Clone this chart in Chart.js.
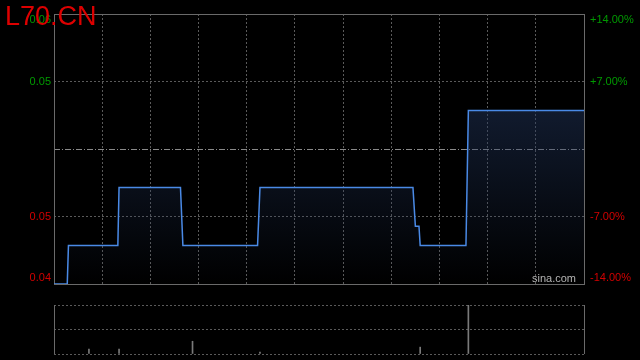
<!DOCTYPE html>
<html>
<head>
<meta charset="utf-8">
<script src="https://cdn.jsdelivr.net/npm/chart.js@4/dist/chart.umd.min.js"></script>
<style>
	html, body { margin: 0; padding: 0; background: #000; }
	#wrap { position: relative; width: 640px; height: 360px; overflow: hidden; }
	canvas { position: absolute; left: 0; top: 0; }
	#title { position: absolute; left: 5px; top: 1px; font: 27px "Liberation Sans", Arial, sans-serif; color: #dd0000; z-index: 3; }
	#brand { position: absolute; left: 532px; top: 272px; font: 11px "Liberation Sans", Arial, sans-serif; color: #b4b4b4; z-index: 3; }
</style>
</head>
<body>
<div id="wrap">
	<canvas id="priceChart" width="640" height="360"></canvas>
	<canvas id="volChart" width="640" height="360"></canvas>
	<div id="title">L70.CN</div>
	<div id="brand">sina.com</div>
</div>
<script>
// минуты от начала торгов
const priceTimes = [0, 11, 12, 53, 54, 105, 107, 169, 171, 298, 300, 303, 304, 342, 344, 440];
const prices = [0.043, 0.043, 0.045, 0.045, 0.048, 0.048, 0.045, 0.045, 0.048, 0.048, 0.046, 0.046, 0.045, 0.045, 0.052, 0.052];

const volTimes = [29, 54, 115, 171, 304, 344];
const volumes = [10, 10, 26, 4, 14, 100];

const prevClose = 0.05;
const tickValues = [0.057, 0.0535, 0.0465, 0.043];
const leftLabels = ['0.06', '0.05', '0.05', '0.04'];
const rightLabels = ['+14.00%', '+7.00%', '-7.00%', '-14.00%'];
const labelColors = ['#009a00', '#009a00', '#d20000', '#d20000'];

const gridColor = '#5a5a5a';
const frameColor = '#6a6a6a';

const priceFrame = {
	id: 'priceFrame',
	beforeDatasetsDraw(chart) {
		const { ctx, chartArea: a, scales } = chart;
		ctx.save();
		// линия вчерашнего закрытия
		const y = Math.round(scales.y.getPixelForValue(prevClose)) + 0.5;
		ctx.strokeStyle = '#8a8a8a';
		ctx.lineWidth = 1;
		ctx.setLineDash([6, 2, 1, 2]);
		ctx.beginPath();
		ctx.moveTo(a.left, y);
		ctx.lineTo(a.right, y);
		ctx.stroke();
		ctx.setLineDash([]);
		ctx.strokeStyle = frameColor;
		ctx.strokeRect(a.left + 0.5, a.top + 0.5, a.right - a.left, a.bottom - a.top);
		ctx.restore();
	},
	afterDraw(chart) {
		const { ctx, chartArea: a, scales } = chart;
		ctx.save();
		ctx.font = '11px "Liberation Sans", Arial, sans-serif';
		ctx.textBaseline = 'middle';
		tickValues.forEach((v, i) => {
			let y = scales.y.getPixelForValue(v);
			if (i === 0) y += 6;
			if (i === tickValues.length - 1) y -= 6;
			ctx.fillStyle = labelColors[i];
			ctx.textAlign = 'right';
			ctx.fillText(leftLabels[i], a.left - 3, y);
			ctx.textAlign = 'left';
			ctx.fillText(rightLabels[i], a.right + 6, y);
		});
		ctx.restore();
	}
};

new Chart(document.getElementById('priceChart'), {
	type: 'line',
	data: {
		datasets: [{
			data: priceTimes.map((t, i) => ({ x: t, y: prices[i] })),
			borderColor: '#4a8ae6',
			borderWidth: 1.5,
			pointRadius: 0,
			tension: 0,
			fill: 'start',
			backgroundColor: (context) => {
				const a = context.chart.chartArea;
				if (!a) return 'rgba(0,0,0,0)';
				const g = context.chart.ctx.createLinearGradient(0, a.top, 0, a.bottom);
				g.addColorStop(0, 'rgba(35,55,95,0.75)');
				g.addColorStop(1, 'rgba(35,55,95,0)');
				return g;
			}
		}]
	},
	options: {
		responsive: false,
		animation: false,
		layout: { padding: { left: 54, right: 56, top: 14, bottom: 76 } },
		plugins: { legend: { display: false }, tooltip: { enabled: false } },
		scales: {
			x: {
				type: 'linear',
				min: 0,
				max: 440,
				ticks: { display: false, stepSize: 40 },
				grid: {
					drawTicks: false,
					color: (c) => (c.tick.value === 0 || c.tick.value === 440) ? 'rgba(0,0,0,0)' : gridColor
				},
				border: { display: false, dash: [2, 2] }
			},
			y: {
				min: 0.043,
				max: 0.057,
				afterBuildTicks: (scale) => {
					scale.ticks = tickValues.map(v => ({ value: v }));
				},
				ticks: { display: false },
				grid: {
					drawTicks: false,
					color: (c) => (c.tick.value === 0.057 || c.tick.value === 0.043) ? 'rgba(0,0,0,0)' : gridColor
				},
				border: { display: false, dash: [2, 2] }
			}
		}
	},
	plugins: [priceFrame]
});

const volFrame = {
	id: 'volFrame',
	beforeDatasetsDraw(chart) {
		const { ctx, chartArea: a } = chart;
		ctx.save();
		ctx.strokeStyle = frameColor;
		ctx.lineWidth = 1;
		ctx.beginPath();
		ctx.moveTo(a.left + 0.5, a.top);
		ctx.lineTo(a.left + 0.5, a.bottom);
		ctx.moveTo(a.right + 0.5, a.top);
		ctx.lineTo(a.right + 0.5, a.bottom);
		ctx.stroke();
		ctx.restore();
	}
};

new Chart(document.getElementById('volChart'), {
	type: 'bar',
	data: {
		datasets: [{
			data: volTimes.map((t, i) => ({ x: t, y: volumes[i] })),
			backgroundColor: '#7a7a7a',
			barThickness: 1
		}]
	},
	options: {
		responsive: false,
		animation: false,
		layout: { padding: { left: 54, right: 56, top: 305, bottom: 6 } },
		plugins: { legend: { display: false }, tooltip: { enabled: false } },
		scales: {
			x: {
				type: 'linear',
				offset: false,
				min: 0,
				max: 440,
				ticks: { display: false },
				grid: { display: false, drawTicks: false },
				border: { display: false }
			},
			y: {
				min: 0,
				max: 100,
				ticks: { display: false, stepSize: 50 },
				grid: { drawTicks: false, color: gridColor },
				border: { display: false, dash: [2, 2] }
			}
		}
	},
	plugins: [volFrame]
});
</script>
</body>
</html>
